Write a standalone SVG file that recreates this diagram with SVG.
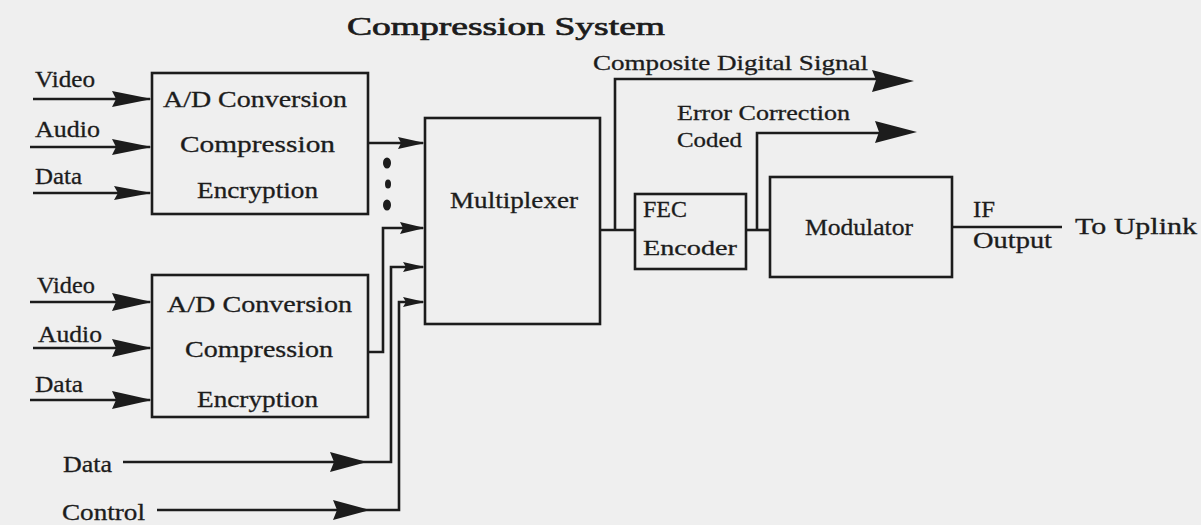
<svg xmlns="http://www.w3.org/2000/svg" width="1201" height="525" viewBox="0 0 1201 525">
<style>
  .bg { fill: #efefef; }
  .box { fill: none; stroke: #1c1c1c; stroke-width: 2.6; }
  .ln { fill: none; stroke: #1c1c1c; stroke-width: 2.6; stroke-linejoin: miter; }
  .ah { fill: #1c1c1c; stroke: none; }
  text { font-family: "Liberation Serif", "Times New Roman", serif; fill: #1c1c1c; font-size: 23px; stroke: #1c1c1c; stroke-width: 0.3; }
  .title { font-size: 26px; stroke-width: 0.7; }
  .sm { font-size: 21px; }
</style>
<rect class="bg" x="0" y="0" width="1201" height="525"/>

<text class="title" x="347" y="35" textLength="318" lengthAdjust="spacingAndGlyphs">Compression  System</text>

<g id="enc1">
  <rect class="box" x="152" y="73" width="216" height="141"/>
  <text x="163" y="107" textLength="184" lengthAdjust="spacingAndGlyphs">A/D Conversion</text>
  <text x="180" y="152" textLength="155" lengthAdjust="spacingAndGlyphs">Compression</text>
  <text x="197" y="198" textLength="121" lengthAdjust="spacingAndGlyphs">Encryption</text>
</g>

<g id="enc2">
  <rect class="box" x="152" y="275" width="216" height="142"/>
  <text x="167" y="312" textLength="185" lengthAdjust="spacingAndGlyphs">A/D Conversion</text>
  <text x="185" y="357" textLength="148" lengthAdjust="spacingAndGlyphs">Compression</text>
  <text x="197" y="407" textLength="121" lengthAdjust="spacingAndGlyphs">Encryption</text>
</g>

<g id="mux">
  <rect class="box" x="425" y="118" width="175" height="206"/>
  <text x="450" y="208" textLength="128" lengthAdjust="spacingAndGlyphs">Multiplexer</text>
</g>

<g id="fec">
  <rect class="box" x="635" y="194" width="111" height="75"/>
  <text x="643" y="217" textLength="44" lengthAdjust="spacingAndGlyphs">FEC</text>
  <text class="sm" x="643" y="255" textLength="94" lengthAdjust="spacingAndGlyphs">Encoder</text>
</g>

<g id="mod">
  <rect class="box" x="770" y="177" width="182" height="100"/>
  <text x="805" y="235" textLength="108" lengthAdjust="spacingAndGlyphs">Modulator</text>
</g>

<g id="labels">
  <text x="35" y="87" textLength="60" lengthAdjust="spacingAndGlyphs">Video</text>
  <text x="35" y="137" textLength="65" lengthAdjust="spacingAndGlyphs">Audio</text>
  <text x="35" y="184" textLength="47" lengthAdjust="spacingAndGlyphs">Data</text>
  <text x="37" y="293" textLength="58" lengthAdjust="spacingAndGlyphs">Video</text>
  <text x="38" y="342" textLength="64" lengthAdjust="spacingAndGlyphs">Audio</text>
  <text x="35" y="392" textLength="48" lengthAdjust="spacingAndGlyphs">Data</text>
  <text x="63" y="472" textLength="49" lengthAdjust="spacingAndGlyphs">Data</text>
  <text x="62" y="520" textLength="83" lengthAdjust="spacingAndGlyphs">Control</text>
  <text class="sm" x="593" y="70" textLength="275" lengthAdjust="spacingAndGlyphs">Composite Digital Signal</text>
  <text class="sm" x="677" y="120" textLength="173" lengthAdjust="spacingAndGlyphs">Error Correction</text>
  <text class="sm" x="677" y="147" textLength="65" lengthAdjust="spacingAndGlyphs">Coded</text>
  <text x="973" y="217" textLength="22" lengthAdjust="spacingAndGlyphs">IF</text>
  <text x="973" y="248" textLength="79" lengthAdjust="spacingAndGlyphs">Output</text>
  <text x="1075" y="234" textLength="122" lengthAdjust="spacingAndGlyphs">To Uplink</text>
</g>

<g id="dots">
  <ellipse class="ah" cx="387" cy="163" rx="4" ry="5.5"/>
  <ellipse class="ah" cx="388" cy="184" rx="3" ry="4.5"/>
  <ellipse class="ah" cx="387" cy="205" rx="4" ry="5.5"/>
</g>

<g id="connectors">
  <line class="ln" x1="33" y1="99" x2="150" y2="99"/>
  <polygon class="ah" points="152,99 112,91 116,99 112,107"/>
  <line class="ln" x1="30" y1="147" x2="150" y2="147"/>
  <polygon class="ah" points="152,147 112,139 116,147 112,155"/>
  <line class="ln" x1="33" y1="193" x2="150" y2="193"/>
  <polygon class="ah" points="152,193 114,186 118,193 114,200"/>
  <line class="ln" x1="30" y1="302" x2="150" y2="302"/>
  <polygon class="ah" points="152,302 112,293 116,302 112,311"/>
  <line class="ln" x1="33" y1="348" x2="150" y2="348"/>
  <polygon class="ah" points="152,348 112,339 116,348 112,357"/>
  <line class="ln" x1="30" y1="400" x2="150" y2="400"/>
  <polygon class="ah" points="152,400 112,391 116,400 112,409"/>
  <line class="ln" x1="368" y1="143" x2="423" y2="143"/>
  <polygon class="ah" points="425,143 398,137 401,143 398,149"/>
  <polyline class="ln" points="368,352 383,352 383,228 423,228"/>
  <polygon class="ah" points="425,228 400,222 403,228 400,234"/>
  <polyline class="ln" points="123,462 391,462 391,267 423,267"/>
  <polygon class="ah" points="367,462 330,452 334,462 330,472"/>
  <polygon class="ah" points="425,267 403,262 406,267 403,272"/>
  <polyline class="ln" points="157,510 399,510 399,302 423,302"/>
  <polygon class="ah" points="370,510 333,500 337,510 333,520"/>
  <polygon class="ah" points="425,302 403,297 406,302 403,307"/>
  <line class="ln" x1="600" y1="230" x2="635" y2="230"/>
  <polyline class="ln" points="615,230 615,79 900,79"/>
  <polygon class="ah" points="914,81 872,70 876,80 872,92"/>
  <line class="ln" x1="746" y1="230" x2="770" y2="230"/>
  <polyline class="ln" points="757,230 757,133 900,133"/>
  <polygon class="ah" points="917,132 875,121 879,132 875,143"/>
  <line class="ln" x1="952" y1="227" x2="1062" y2="227"/>
</g>
</svg>
